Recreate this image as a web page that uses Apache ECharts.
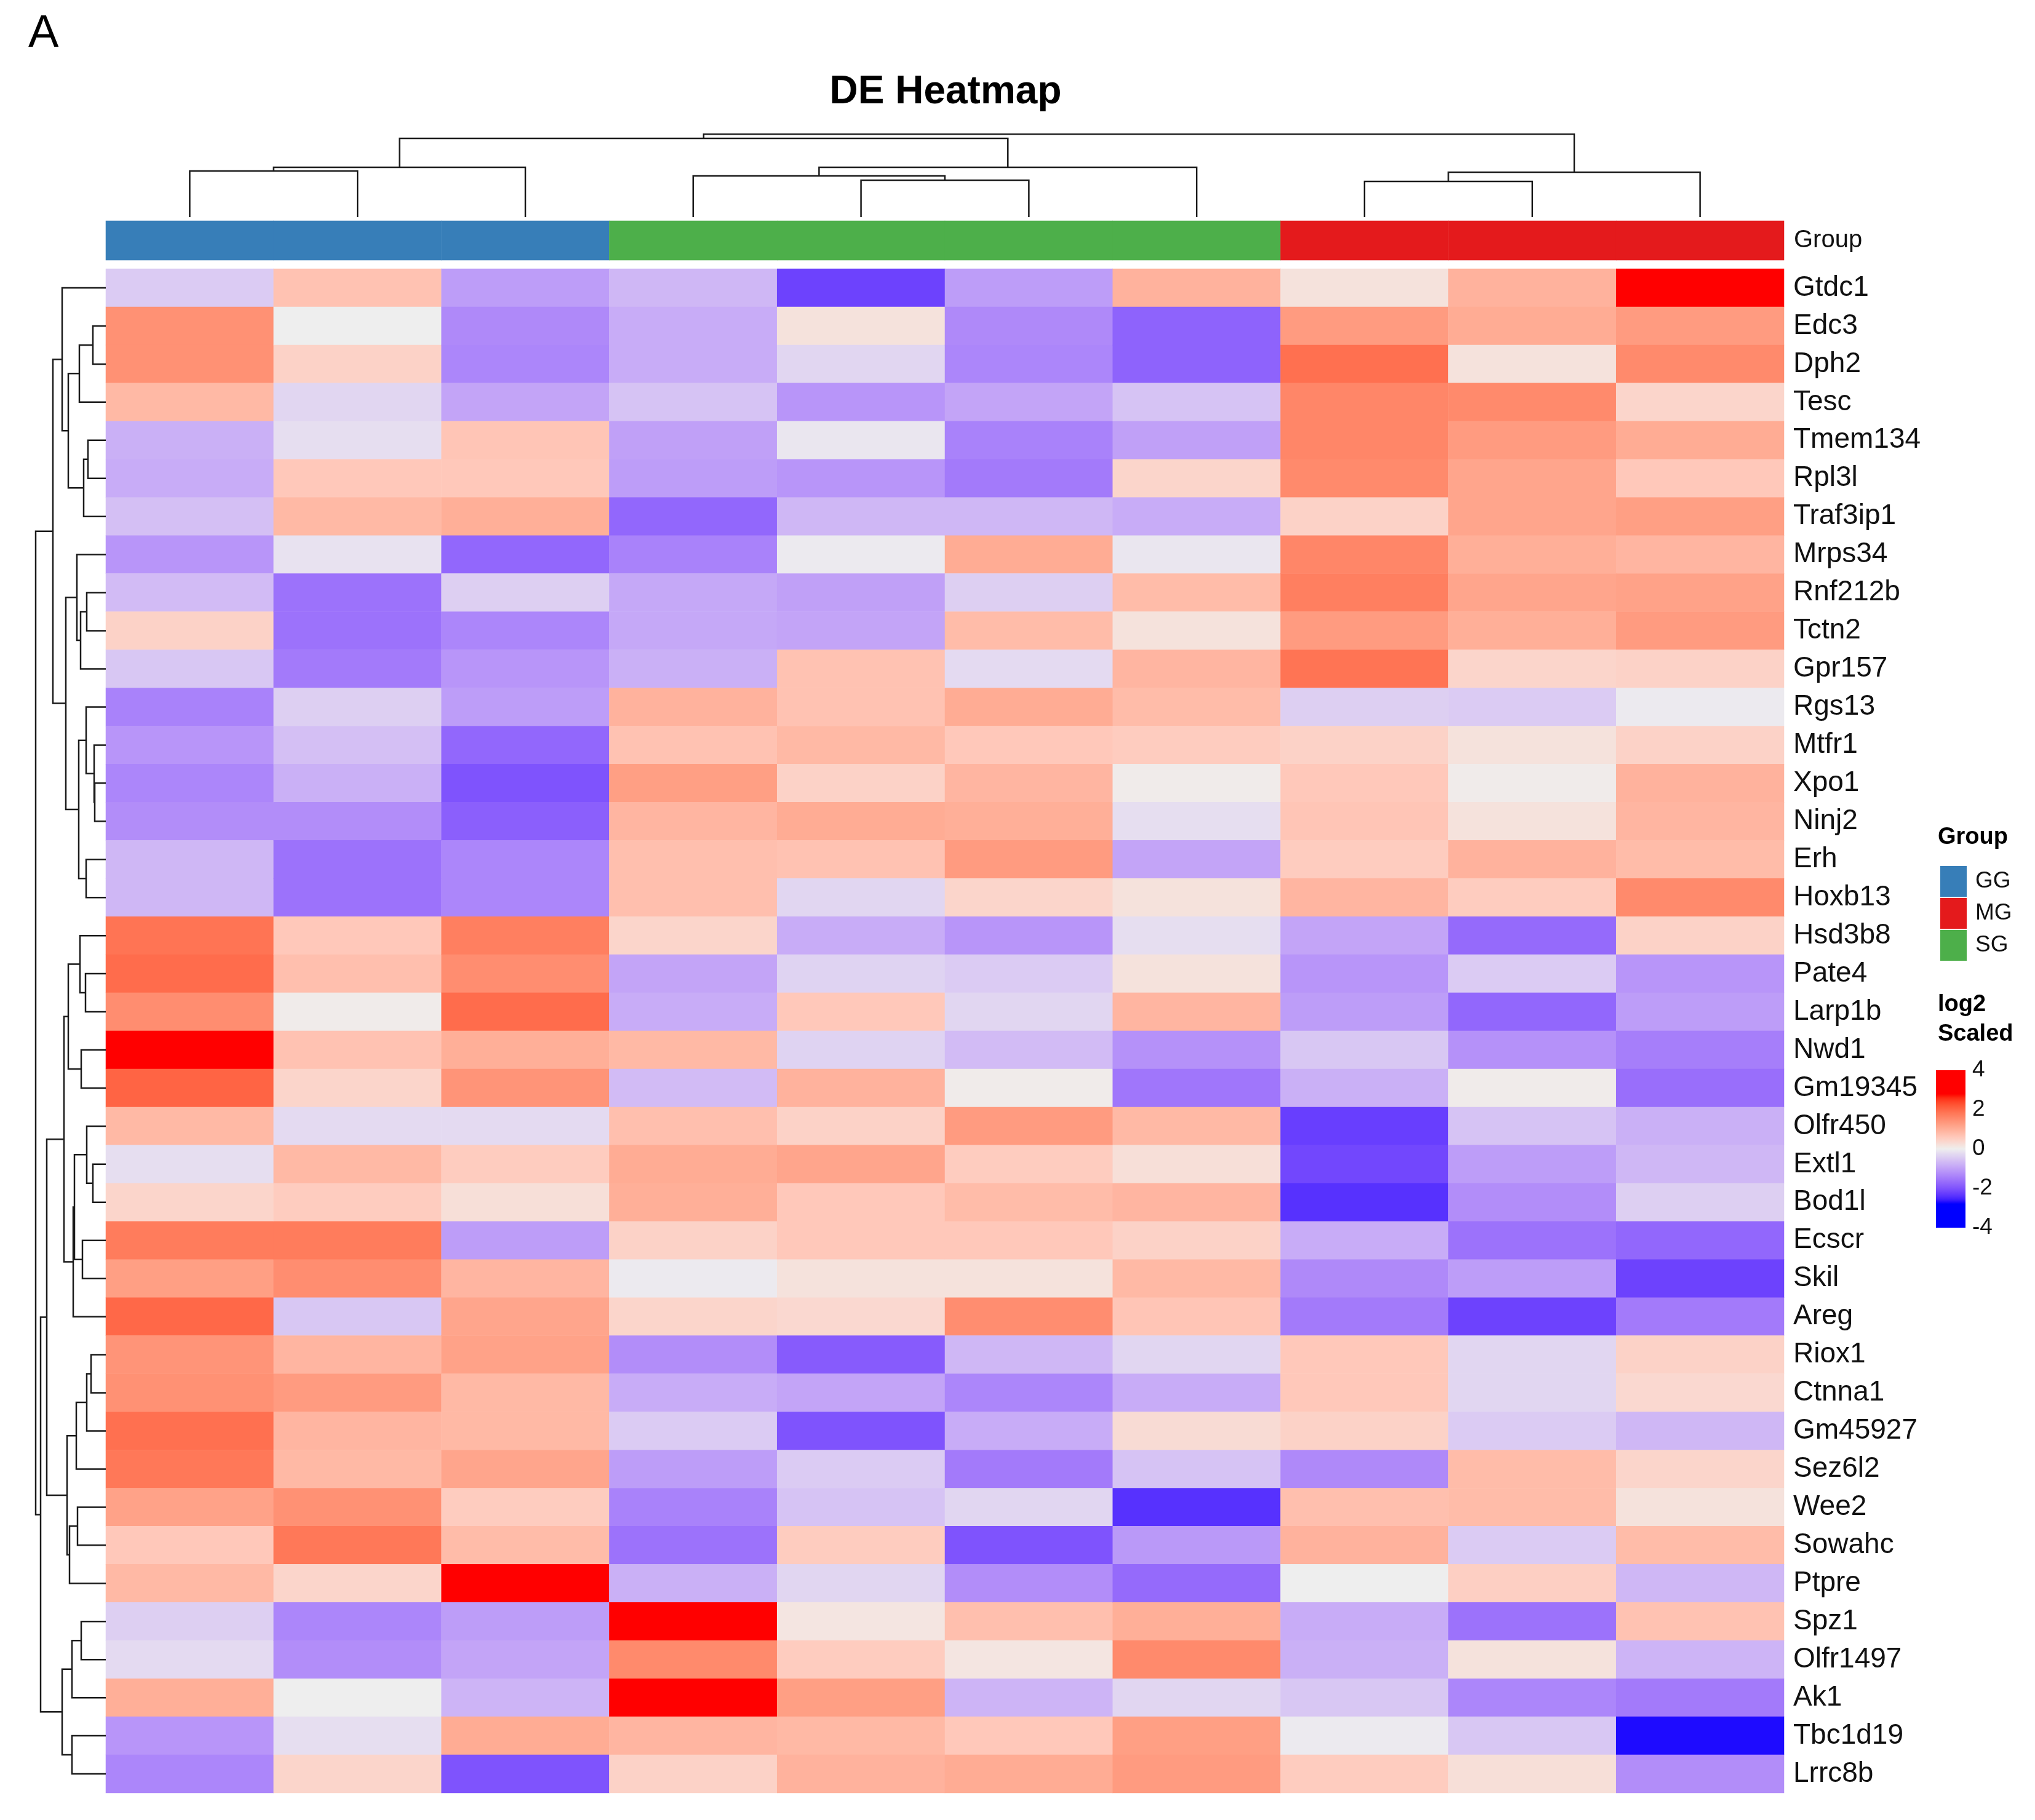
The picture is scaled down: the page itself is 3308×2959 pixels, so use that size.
<!DOCTYPE html>
<html>
<head>
<meta charset="utf-8">
<script src="https://cdn.jsdelivr.net/npm/echarts@6/dist/echarts.min.js"></script>
<style>
  html, body { margin: 0; padding: 0; background: #fff; }
  #main { width: 3308px; height: 2959px; }
</style>
</head>
<body>
<div id="main"></div>
<script>
// genes, top to bottom
var genes = ['Gtdc1','Edc3','Dph2','Tesc','Tmem134','Rpl3l','Traf3ip1','Mrps34','Rnf212b','Tctn2',
  'Gpr157','Rgs13','Mtfr1','Xpo1','Ninj2','Erh','Hoxb13','Hsd3b8','Pate4','Larp1b',
  'Nwd1','Gm19345','Olfr450','Extl1','Bod1l','Ecscr','Skil','Areg','Riox1','Ctnna1',
  'Gm45927','Sez6l2','Wee2','Sowahc','Ptpre','Spz1','Olfr1497','Ak1','Tbc1d19','Lrrc8b'];

var samples = ['GG1','GG2','GG3','SG1','SG2','SG3','SG4','MG1','MG2','MG3'];
var sampleGroup = ['GG','GG','GG','SG','SG','SG','SG','MG','MG','MG'];
var groupNames = ['GG','MG','SG'];

// log2 scaled values, one array per sample (same order as genes)
var gg1 = [-0.45,1.45,1.45,0.85,-0.8,-0.85,-0.6,-1.15,-0.65,0.45,-0.5,-1.4,-1.15,-1.35,-1.25,-0.7,-0.7,1.85,1.95,1.5,3.0,2.05,0.85,-0.2,0.4,1.75,1.25,2.0,1.4,1.45,1.9,1.8,1.2,0.6,0.85,-0.4,-0.25,1.0,-1.15,-1.35];
var gg2 = [0.7,0.0,0.45,-0.3,-0.2,0.6,0.85,-0.15,-1.6,-1.6,-1.5,-0.4,-0.6,-0.8,-1.25,-1.6,-1.6,0.6,0.75,0.05,0.7,0.4,-0.25,0.85,0.55,1.75,1.5,-0.5,0.9,1.3,0.9,0.85,1.45,1.8,0.4,-1.35,-1.25,0.0,-0.2,0.4];
var gg3 = [-1.05,-1.3,-1.35,-0.95,0.65,0.6,1.0,-1.75,-0.4,-1.35,-1.15,-1.05,-1.75,-2.0,-1.85,-1.35,-1.35,1.7,1.5,1.95,1.0,1.4,-0.25,0.55,0.25,-1.05,0.9,1.15,1.2,0.85,0.85,1.15,0.55,0.8,3.0,-1.05,-0.95,-0.75,1.05,-2.0];
var sg1 = [-0.7,-0.85,-0.85,-0.55,-1.0,-1.05,-1.75,-1.4,-0.9,-0.9,-0.8,0.95,0.7,1.25,0.9,0.75,0.75,0.4,-0.95,-0.85,0.85,-0.65,0.75,1.05,1.0,0.45,-0.05,0.4,-1.25,-0.85,-0.45,-1.05,-1.4,-1.6,-0.8,3.0,1.55,3.0,0.9,0.45];
var sg2 = [-2.2,0.2,-0.3,-1.15,-0.1,-1.15,-0.7,-0.05,-1.0,-0.95,0.7,0.7,0.85,0.45,1.05,0.7,-0.3,-0.85,-0.35,0.6,-0.35,0.95,0.45,1.15,0.6,0.6,0.2,0.35,-1.9,-0.95,-2.0,-0.45,-0.55,0.55,-0.3,0.15,0.55,1.25,0.85,0.95];
var sg3 = [-1.05,-1.3,-1.35,-0.95,-1.4,-1.5,-0.7,1.05,-0.4,0.8,-0.25,1.05,0.6,0.9,1.0,1.3,0.4,-1.15,-0.45,-0.3,-0.65,0.05,1.3,0.55,0.8,0.6,0.2,1.5,-0.7,-1.35,-0.85,-1.5,-0.3,-2.0,-1.25,0.75,0.15,-0.75,0.6,1.05];
var sg4 = [0.95,-1.8,-1.8,-0.55,-1.0,0.4,-0.85,-0.1,0.8,0.2,0.9,0.8,0.55,0.05,-0.2,-0.95,0.2,-0.2,0.2,0.9,-1.2,-1.55,0.85,0.25,0.9,0.45,0.85,0.65,-0.3,-0.85,0.3,-0.55,-2.4,-1.1,-1.7,1.0,1.55,-0.3,1.25,1.3];
var mg1 = [0.2,1.3,1.9,1.6,1.6,1.55,0.45,1.6,1.7,1.3,1.85,-0.4,0.45,0.6,0.65,0.55,0.9,-0.95,-1.15,-1.05,-0.5,-0.8,-2.25,-2.15,-2.4,-0.85,-1.3,-1.5,0.6,0.6,0.45,-1.3,0.75,0.95,0.0,-0.85,-0.8,-0.5,-0.05,0.55];
var mg2 = [0.95,1.05,0.2,1.55,1.3,1.15,1.15,1.0,1.15,1.0,0.4,-0.45,0.2,0.05,0.2,0.95,0.55,-1.7,-0.45,-1.75,-1.2,0.05,-0.55,-1.05,-1.25,-1.6,-1.05,-2.2,-0.3,-0.3,-0.45,0.8,0.8,-0.45,0.5,-1.6,0.2,-1.35,-0.5,0.25];
var mg3 = [3.0,1.3,1.55,0.4,1.05,0.6,1.25,0.9,1.2,1.3,0.45,-0.05,0.45,0.95,0.9,0.8,1.55,0.45,-1.15,-1.05,-1.45,-1.65,-0.8,-0.7,-0.4,-1.75,-2.2,-1.5,0.45,0.35,-0.7,0.4,0.2,0.8,-0.7,0.7,-0.75,-1.5,-2.7,-1.25];
var columns = [gg1, gg2, gg3, sg1, sg2, sg3, sg4, mg1, mg2, mg3];

// dendrograms: leaf = index, node = [left, right, height]
var colTree = [[[[0,1,75],2,81],[[3,[4,5,60],67],6,81],128],[[7,8,58],9,73],135];
var rowTree = [
  [
    [0,[[[1,2,21],3,43],[[4,5,29],6,36],61],71],
    [[7,[[8,9,31],10,41],47],[[11,[12,[13,14,18],19],32],[15,16,32],44],65],
    86
  ],
  [
    [
      [[[17,[18,19,33],42],[20,21,40],61],[[[22,[23,24,21],31],[25,26,38],51],27,53],68],
      [[[[28,29,24],30,31],31,48],[[32,33,46],34,59],63],
      96
    ],
    [[[35,36,40],37,55],[38,39,55],71],
    106
  ],
  114
];

var legendTicks = [-4, -2, 0, 2, 4];

// colour ramp: blue - grey - red, interpolated in LAB
var rampLow = '#0000FF', rampMid = '#EEEEEE', rampHigh = '#FF0000', rampLim = 2.75;

function toLin(c){ c /= 255; return c <= 0.04045 ? c / 12.92 : Math.pow((c + 0.055) / 1.055, 2.4); }
function fromLin(c){
  c = c <= 0.0031308 ? 12.92 * c : 1.055 * Math.pow(c, 1 / 2.4) - 0.055;
  return Math.round(Math.max(0, Math.min(1, c)) * 255);
}
function hexToLab(hex){
  var r = toLin(parseInt(hex.substr(1,2),16)), g = toLin(parseInt(hex.substr(3,2),16)), b = toLin(parseInt(hex.substr(5,2),16));
  var X = (0.4124*r + 0.3576*g + 0.1805*b) / 0.95047;
  var Y = (0.2126*r + 0.7152*g + 0.0722*b);
  var Z = (0.0193*r + 0.1192*g + 0.9505*b) / 1.08883;
  var f = function(t){ return t > 0.008856 ? Math.cbrt(t) : 7.787 * t + 16 / 116; };
  var fx = f(X), fy = f(Y), fz = f(Z);
  return [116 * fy - 16, 500 * (fx - fy), 200 * (fy - fz)];
}
function labToHex(lab){
  var fy = (lab[0] + 16) / 116, fx = fy + lab[1] / 500, fz = fy - lab[2] / 200;
  var fi = function(t){ return t * t * t > 0.008856 ? t * t * t : (t - 16 / 116) / 7.787; };
  var X = 0.95047 * fi(fx), Y = fi(fy), Z = 1.08883 * fi(fz);
  var r = 3.2406*X - 1.5372*Y - 0.4986*Z;
  var g = -0.9689*X + 1.8758*Y + 0.0415*Z;
  var b = 0.0557*X - 0.2040*Y + 1.0570*Z;
  return 'rgb(' + fromLin(r) + ',' + fromLin(g) + ',' + fromLin(b) + ')';
}
var labLow = hexToLab(rampLow), labMid = hexToLab(rampMid), labHigh = hexToLab(rampHigh);
function rampColor(v){
  var t = Math.max(-1, Math.min(1, v / rampLim));
  var end = t < 0 ? labLow : labHigh;
  t = Math.abs(t);
  return labToHex([0,1,2].map(function(k){ return labMid[k] + (end[k] - labMid[k]) * t; }));
}
var rampStops = [];
for (var s = 0; s <= 80; s++) rampStops.push(rampColor(-4 + s * 0.1));

// heatmap data
var heatData = [];
columns.forEach(function(col, c){
  col.forEach(function(v, r){ heatData.push([c, r, v]); });
});

// dendrogram segments
function dendro(node, segs){
  if (!Array.isArray(node)) return {pos: node, h: 0};
  var L = dendro(node[0], segs), R = dendro(node[1], segs), h = node[2];
  segs.push([[L.pos, L.h], [L.pos, h], [R.pos, h], [R.pos, R.h]]);
  return {pos: (L.pos + R.pos) / 2, h: h};
}
var colSegs = [], rowSegs = [];
dendro(colTree, colSegs);
dendro(rowTree, rowSegs);
var rowLines = rowSegs.map(function(seg){
  return {coords: seg.map(function(p){ return [p[1], p[0]]; })};
});
var colLines = colSegs.map(function(seg){ return {coords: seg}; });

// colour bar gradients
function gradStops(from, to){
  var st = [];
  for (var i = 0; i <= 40; i++) {
    var o = i / 40;
    st.push({offset: o, color: rampColor(from + (to - from) * o)});
  }
  return st;
}

var FONT = "'Liberation Sans', Arial, sans-serif";
var heatLeft = 172, heatTop = 437, heatW = 2728, heatH = 2478;
var groupColors = {GG: '#377EB8', MG: '#E41A1C', SG: '#4DAF4A'};

// annotation row as a one-row heatmap, plus empty bars that only feed the legend
var groupData = sampleGroup.map(function(g, i){
  return {value: [i, 0, 1], itemStyle: {color: groupColors[g]}};
});
var legendSeries = groupNames.map(function(g){
  return {name: g, type: 'bar', xAxisIndex: 1, yAxisIndex: 1, data: [],
          itemStyle: {color: groupColors[g]}, silent: true};
});

var chart = echarts.init(document.getElementById('main'));
chart.setOption({
  backgroundColor: '#ffffff',
  animation: false,
  textStyle: {fontFamily: FONT},
  grid: [
    {left: heatLeft, top: heatTop, width: heatW, height: heatH},
    {left: heatLeft, top: 359, width: heatW, height: 64},
    {left: heatLeft, top: 218, width: heatW, height: 135},
    {left: 55, top: heatTop, width: 117, height: heatH},
    {left: 3147, top: 1740, width: 48, height: 256}
  ],
  xAxis: [
    {gridIndex: 0, type: 'category', data: samples, show: false},
    {gridIndex: 1, type: 'category', data: samples, show: false},
    {gridIndex: 2, type: 'value', min: -0.5, max: 9.5, show: false},
    {gridIndex: 3, type: 'value', min: 0, max: 117, inverse: true, show: false},
    {gridIndex: 4, type: 'category', data: ['bar'], show: false}
  ],
  yAxis: [
    {gridIndex: 0, type: 'category', data: genes, inverse: true, position: 'right',
     axisLine: {show: false}, axisTick: {show: false}, splitLine: {show: false},
     axisLabel: {interval: 0, fontSize: 46, color: '#111', margin: 15, fontFamily: FONT}},
    {gridIndex: 1, type: 'value', min: 0, max: 1, show: false},
    {gridIndex: 2, type: 'value', min: 0, max: 135, show: false},
    {gridIndex: 3, type: 'value', min: -0.5, max: 39.5, inverse: true, show: false},
    {gridIndex: 4, type: 'value', min: -4, max: 4, interval: 2, position: 'right',
     axisLine: {show: false}, axisTick: {show: false},
     splitLine: {show: true, z: 10, lineStyle: {color: '#ffffff', width: 3, type: [12, 24]}},
     axisLabel: {fontSize: 37, color: '#111', margin: 11, fontFamily: FONT,
       customValues: legendTicks}},
    {gridIndex: 1, type: 'category', data: ['Group'], position: 'right',
     axisLine: {show: false}, axisTick: {show: false}, splitLine: {show: false},
     axisLabel: {fontSize: 40, color: '#111', margin: 16, fontFamily: FONT}}
  ],
  visualMap: {
    type: 'continuous', show: false, seriesIndex: 0, dimension: 2,
    min: -4, max: 4, inRange: {color: rampStops}
  },
  legend: {
    data: groupNames, orient: 'vertical', left: 3149, top: 1403,
    itemWidth: 43, itemHeight: 50, itemGap: 2, icon: 'rect', selectedMode: false,
    textStyle: {fontSize: 37, color: '#111', fontFamily: FONT, padding: [0, 0, 0, 9]}
  },
  graphic: [
    {type: 'text', x: 46, y: 56, style: {text: 'A', font: 'normal 74px ' + FONT, fill: '#000', textVerticalAlign: 'middle'}},
    {type: 'text', x: 1537, y: 150, style: {text: 'DE Heatmap', font: 'bold 64px ' + FONT, fill: '#000', textAlign: 'center', textVerticalAlign: 'middle'}},
    {type: 'text', x: 3150, y: 1362, style: {text: 'Group', font: 'bold 38px ' + FONT, fill: '#000', textVerticalAlign: 'middle'}},
    {type: 'text', x: 3150, y: 1634, style: {text: 'log2', font: 'bold 38px ' + FONT, fill: '#000', textVerticalAlign: 'middle'}},
    {type: 'text', x: 3150, y: 1682, style: {text: 'Scaled', font: 'bold 38px ' + FONT, fill: '#000', textVerticalAlign: 'middle'}}
  ],
  series: [
    {type: 'heatmap', xAxisIndex: 0, yAxisIndex: 0, data: heatData, silent: true,
     emphasis: {disabled: true}},
    {type: 'heatmap', name: 'Group', xAxisIndex: 1, yAxisIndex: 5, data: groupData, silent: true,
     emphasis: {disabled: true}}
  ].concat(legendSeries).concat([
    {type: 'lines', coordinateSystem: 'cartesian2d', xAxisIndex: 2, yAxisIndex: 2,
     polyline: true, silent: true, data: colLines,
     lineStyle: {color: '#1a1a1a', width: 2.5, opacity: 1}},
    {type: 'lines', coordinateSystem: 'cartesian2d', xAxisIndex: 3, yAxisIndex: 3,
     polyline: true, silent: true, data: rowLines,
     lineStyle: {color: '#1a1a1a', width: 2.5, opacity: 1}},
    {type: 'bar', xAxisIndex: 4, yAxisIndex: 4, barWidth: '100%', barGap: '-100%', silent: true,
     data: [4], itemStyle: {color: new echarts.graphic.LinearGradient(0, 0, 0, 1, gradStops(4, 0))}},
    {type: 'bar', xAxisIndex: 4, yAxisIndex: 4, barWidth: '100%', barGap: '-100%', silent: true,
     data: [-4], itemStyle: {color: new echarts.graphic.LinearGradient(0, 0, 0, 1, gradStops(0, -4))}}
  ])
});

window.addEventListener('resize', function(){ chart.resize(); });
</script>
</body>
</html>
